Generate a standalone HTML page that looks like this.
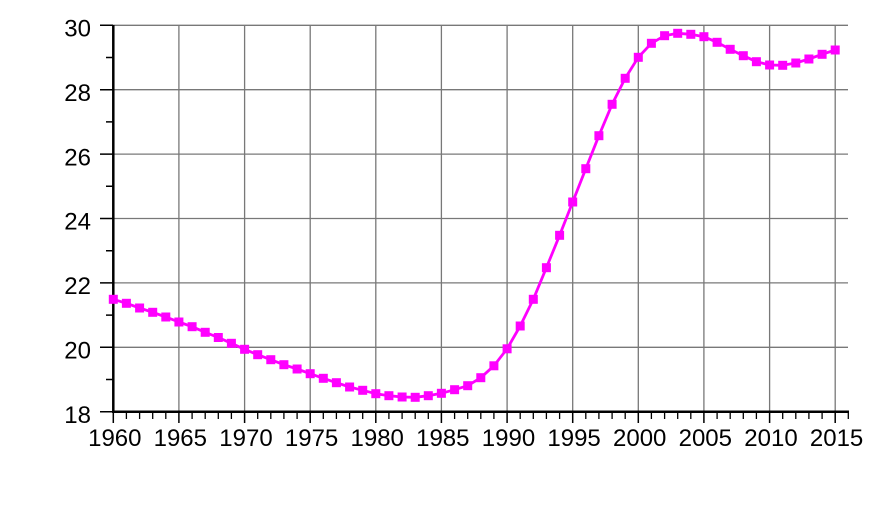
<!DOCTYPE html>
<html><head><meta charset="utf-8"><style>
html,body{margin:0;padding:0;background:#fff;}
svg{display:block;}
text{font-family:"Liberation Sans",Arial,sans-serif;font-size:24px;fill:#000;}
</style></head><body>
<svg width="872" height="512" viewBox="0 0 872 512" xmlns="http://www.w3.org/2000/svg">
<defs>
<marker id="sq" markerUnits="userSpaceOnUse" markerWidth="10" markerHeight="10" refX="5" refY="5" viewBox="0 0 10 10">
<rect x="0.5" y="0.5" width="9" height="9" fill="#ff00ff"/>
</marker>
</defs>
<path stroke="#787878" stroke-width="1.3" fill="none" d="M113 25.3H848M113 89.7H848M113 154.1H848M113 218.5H848M113 282.9H848M113 347.3H848M178.9 25.3V412M244.6 25.3V412M310.2 25.3V412M375.8 25.3V412M441.4 25.3V412M507.1 25.3V412M572.7 25.3V412M638.3 25.3V412M703.9 25.3V412M769.6 25.3V412M835.2 25.3V412"/>
<path stroke="#000" stroke-width="1.5" fill="none" d="M100 25.3H113M100 89.7H113M100 154.1H113M100 218.5H113M100 282.9H113M100 347.3H113M100 411.7H113M106 57.5H113M106 121.9H113M106 186.3H113M106 250.7H113M106 315.1H113M106 379.5H113M113.3 412V423M178.9 412V423M244.6 412V423M310.2 412V423M375.8 412V423M441.4 412V423M507.1 412V423M572.7 412V423M638.3 412V423M703.9 412V423M769.6 412V423M835.2 412V423"/>
<path stroke="#000" stroke-width="1.3" fill="none" d="M126.4 412v7M139.6 412v7M152.7 412v7M165.8 412v7M192.1 412v7M205.2 412v7M218.3 412v7M231.4 412v7M257.7 412v7M270.8 412v7M283.9 412v7M297.1 412v7M323.3 412v7M336.4 412v7M349.6 412v7M362.7 412v7M388.9 412v7M402.1 412v7M415.2 412v7M428.3 412v7M454.6 412v7M467.7 412v7M480.8 412v7M493.9 412v7M520.2 412v7M533.3 412v7M546.4 412v7M559.6 412v7M585.8 412v7M598.9 412v7M612.1 412v7M625.2 412v7M651.4 412v7M664.6 412v7M677.7 412v7M690.8 412v7M717.1 412v7M730.2 412v7M743.3 412v7M756.4 412v7M782.7 412v7M795.8 412v7M808.9 412v7M822.1 412v7M848.3 412v7"/>
<line x1="113.3" y1="25" x2="113.3" y2="412.5" stroke="#000" stroke-width="2.5"/>
<line x1="112" y1="411.7" x2="849" y2="411.7" stroke="#000" stroke-width="2.5"/>
<g text-anchor="end">
<text x="91" y="36.5">30</text>
<text x="91" y="100.9">28</text>
<text x="91" y="165.3">26</text>
<text x="91" y="229.7">24</text>
<text x="91" y="294.1">22</text>
<text x="91" y="358.5">20</text>
<text x="91" y="422.9">18</text>
</g>
<g text-anchor="middle">
<text x="114.8" y="446">1960</text>
<text x="180.3" y="446">1965</text>
<text x="246" y="446">1970</text>
<text x="311.6" y="446">1975</text>
<text x="377.2" y="446">1980</text>
<text x="442.8" y="446">1985</text>
<text x="508.5" y="446">1990</text>
<text x="574.1" y="446">1995</text>
<text x="639.7" y="446">2000</text>
<text x="705.3" y="446">2005</text>
<text x="771" y="446">2010</text>
<text x="836.6" y="446">2015</text>
</g>
<polyline fill="none" stroke="#ff00ff" stroke-width="2.8" stroke-linejoin="round" marker-start="url(#sq)" marker-mid="url(#sq)" marker-end="url(#sq)" points="113.3,299.3 126.4,303.3 139.6,308 152.7,312.3 165.8,317 178.9,322 192.1,326.7 205.2,332.3 218.3,337.5 231.4,343.3 244.6,349.3 257.7,354.7 270.8,359.7 283.9,364.7 297.1,369 310.2,373.7 323.3,378.3 336.4,382.7 349.6,387 362.7,390.3 375.8,393.7 388.9,395.7 402.1,397 415.2,397.3 428.3,395.7 441.4,393.3 454.6,389.7 467.7,385.7 480.8,377.7 493.9,365.8 507.1,348.8 520.2,326 533.3,299.3 546.4,267.7 559.6,235.3 572.7,202 585.8,168.7 598.9,135.7 612.1,104.3 625.2,78.3 638.3,57.3 651.4,43.3 664.6,35.7 677.7,33.3 690.8,34.3 703.9,36.7 717.1,42.3 730.2,49.3 743.3,55.7 756.4,61.7 769.6,65 782.7,65.3 795.8,63 808.9,59 822.1,54.3 835.2,50"/>
</svg>
</body></html>
